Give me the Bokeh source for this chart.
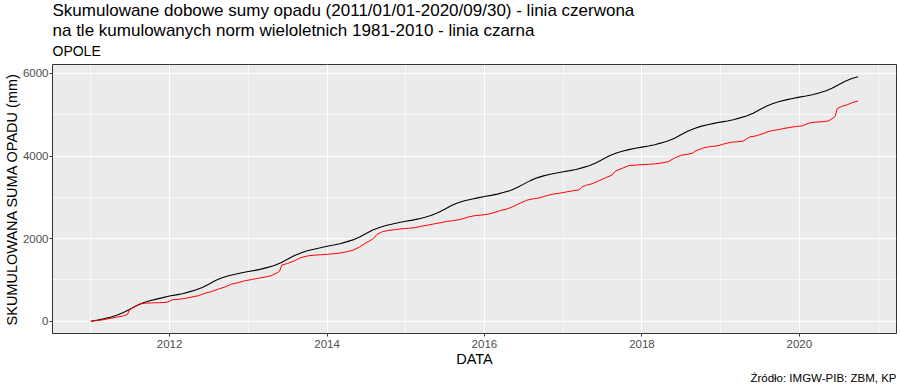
import pandas as pd
from bokeh.plotting import figure
from bokeh.models import Range1d, FixedTicker, DatetimeTickFormatter, Title, ColumnDataSource
from bokeh.embed import file_html
from bokeh.resources import INLINE

# ---- data ----
norm_month_vals = [
    0, 28, 58, 98, 145, 212, 292, 378, 447, 497, 536, 572,
    612, 640, 668, 712, 757, 820, 898, 985, 1052, 1102, 1140, 1174,
    1205, 1233, 1263, 1305, 1350, 1418, 1500, 1585, 1655, 1706, 1744, 1778,
    1818, 1846, 1876, 1922, 1970, 2040, 2125, 2207, 2272, 2320, 2356, 2390,
    2420, 2448, 2478, 2520, 2566, 2632, 2714, 2800, 2868, 2918, 2955, 2988,
    3020, 3048, 3078, 3122, 3168, 3236, 3320, 3405, 3472, 3520, 3558, 3590,
    3618, 3646, 3676, 3720, 3766, 3834, 3915, 4000, 4068, 4118, 4156, 4188,
    4216, 4244, 4274, 4318, 4364, 4432, 4515, 4600, 4668, 4718, 4756, 4790,
    4822, 4850, 4880, 4924, 4970, 5038, 5120, 5205, 5272, 5322, 5360, 5394,
    5426, 5454, 5484, 5528, 5574, 5642, 5725, 5810, 5876,
    5920,
]
norm_dates = list(pd.date_range("2011-01-01", "2020-09-01", freq="MS")) + [pd.Timestamp("2020-09-30")]

obs_dates = [
    "2011-01-01", "2011-02-01", "2011-03-01", "2011-04-01", "2011-05-01", "2011-06-01",
    "2011-06-20", "2011-06-28", "2011-07-15", "2011-08-15", "2011-09-15", "2011-10-15",
    "2011-11-15", "2011-12-20", "2012-01-15", "2012-02-15", "2012-03-15", "2012-04-15",
    "2012-05-15", "2012-06-15", "2012-07-15", "2012-08-15", "2012-09-15", "2012-10-15",
    "2012-11-15", "2012-12-15", "2013-01-15", "2013-02-15", "2013-03-15", "2013-04-15",
    "2013-05-10", "2013-05-25", "2013-06-05", "2013-07-01", "2013-08-01", "2013-09-01",
    "2013-10-01", "2013-11-01", "2013-12-01", "2014-01-01", "2014-02-01", "2014-03-01",
    "2014-04-01", "2014-05-01", "2014-06-01", "2014-07-01", "2014-08-01", "2014-08-20",
    "2014-09-15", "2014-10-15", "2014-11-15", "2014-12-15", "2015-01-15", "2015-02-15",
    "2015-03-15", "2015-04-15", "2015-05-15", "2015-06-15", "2015-07-15", "2015-08-15",
    "2015-09-15", "2015-10-15", "2015-11-15", "2015-12-15", "2016-01-15", "2016-02-15",
    "2016-03-15", "2016-04-15", "2016-05-15", "2016-06-15", "2016-07-15", "2016-08-15",
    "2016-09-15", "2016-10-15", "2016-11-15", "2016-12-15", "2017-01-15", "2017-02-15",
    "2017-03-15", "2017-04-01", "2017-04-15", "2017-05-15", "2017-06-15", "2017-07-15",
    "2017-08-15", "2017-09-01", "2017-10-01", "2017-11-01", "2017-12-01", "2018-01-01",
    "2018-02-01", "2018-03-01", "2018-04-01", "2018-05-01", "2018-06-01", "2018-07-01",
    "2018-08-01", "2018-08-25", "2018-09-05", "2018-09-15", "2018-10-15", "2018-11-15",
    "2018-12-15", "2019-01-15", "2019-02-15", "2019-03-15", "2019-04-15", "2019-05-15",
    "2019-06-15", "2019-07-15", "2019-08-15", "2019-09-15", "2019-10-15", "2019-11-15",
    "2019-12-15", "2020-01-15", "2020-02-15", "2020-03-15", "2020-04-15", "2020-05-15",
    "2020-06-01", "2020-06-15", "2020-06-25", "2020-07-15", "2020-08-10", "2020-09-01",
    "2020-09-30",
]
obs_vals = [
    0, 20, 40, 70, 100, 130,
    165, 270, 330, 420, 440, 445,
    450, 460, 520, 535, 555, 590,
    620, 680, 720, 780, 830, 900,
    935, 980, 1010, 1040, 1065, 1100,
    1160, 1210, 1360, 1400, 1460, 1540,
    1580, 1600, 1610, 1620, 1635, 1650,
    1680, 1720, 1800, 1900, 1990, 2100,
    2170, 2200, 2220, 2240, 2250, 2270,
    2300, 2330, 2360, 2390, 2420, 2440,
    2470, 2520, 2555, 2570, 2590, 2630,
    2680, 2720, 2780, 2860, 2930, 2965,
    2990, 3040, 3080, 3100, 3130, 3160,
    3180, 3260, 3290, 3330, 3400, 3470,
    3540, 3640, 3700, 3770, 3780, 3790,
    3800, 3810, 3830, 3860, 3950, 4020,
    4040, 4070, 4120, 4140, 4200, 4230,
    4245, 4290, 4330, 4345, 4360, 4460,
    4490, 4540, 4600, 4630, 4660, 4690,
    4715, 4730, 4800, 4820, 4830, 4850,
    4900, 4960, 5150, 5200, 5240, 5290,
    5335,
]

x_major_years = ["2012-01-01", "2014-01-01", "2016-01-01", "2018-01-01", "2020-01-01"]
x_minor_years = ["2011-01-01", "2013-01-01", "2015-01-01", "2017-01-01", "2019-01-01", "2021-01-01"]
y_major = [0, 2000, 4000, 6000]
y_minor = [1000, 3000, 5000]

title_text = ("Skumulowane dobowe sumy opadu (2011/01/01-2020/09/30) - linia czerwona\n"
              "na tle kumulowanych norm wieloletnich 1981-2010 - linia czarna")
subtitle_text = "OPOLE"
caption_text = "Źródło: IMGW-PIB: ZBM, KP"
x_label = "DATA"
y_label = "SKUMULOWANA SUMA OPADU (mm)"

FONT = "Liberation Sans"


def ms(d):
    return pd.Timestamp(d).value / 1e6


norm_src = ColumnDataSource(dict(x=norm_dates, y=norm_month_vals))
obs_src = ColumnDataSource(dict(x=pd.to_datetime(obs_dates), y=obs_vals))

all_x = [ms(d) for d in norm_dates] + [ms(d) for d in obs_dates]
xmin, xmax = min(all_x), max(all_x)
xpad = 0.05 * (xmax - xmin)
ymin = min(min(norm_month_vals), min(obs_vals))
ymax = max(max(norm_month_vals), max(obs_vals))
ypad = 0.05 * (ymax - ymin)

p = figure(width=900, height=386, x_axis_type="datetime",
           output_backend="svg", toolbar_location=None,
           x_range=Range1d(xmin - xpad, xmax + xpad),
           y_range=Range1d(ymin - ypad, ymax + ypad),
           min_border_left=0, min_border_right=4,
           min_border_top=0, min_border_bottom=53)

p.background_fill_color = "#EBEBEB"
p.border_fill_color = "white"
p.outline_line_color = "#333333"
p.outline_line_width = 1

# main title (outermost)
p.title.text = title_text
p.title.text_font = FONT
p.title.text_font_size = "17px"
p.title.text_font_style = "normal"
p.title.text_color = "black"
p.title.align = "left"
p.title.text_line_height = 1.05
p.title.standoff = -3

sub = Title(text=subtitle_text, text_font=FONT, text_font_size="14px",
            text_font_style="normal", text_color="black", align="left",
            vertical_align="top", standoff=8)
p.add_layout(sub, "above")

# axes
p.xaxis.ticker = FixedTicker(ticks=[ms(d) for d in x_major_years],
                             minor_ticks=[ms(d) for d in x_minor_years])
p.xaxis.formatter = DatetimeTickFormatter(years="%Y", months="%Y", days="%Y")
p.yaxis.ticker = FixedTicker(ticks=y_major, minor_ticks=y_minor)

for ax in (p.xaxis[0], p.yaxis[0]):
    ax.axis_line_color = None
    ax.major_tick_line_color = "#333333"
    ax.major_tick_out = 3
    ax.major_tick_in = 0
    ax.minor_tick_line_color = None
    ax.major_label_text_color = "#4D4D4D"
    ax.major_label_text_font = FONT
    ax.major_label_text_font_size = "11.5px"
    ax.major_label_standoff = 1
    ax.axis_label_text_font = FONT
    ax.axis_label_text_font_size = "14.5px"
    ax.axis_label_text_font_style = "normal"
    ax.axis_label_text_color = "black"
    ax.axis_label_standoff = 0
p.xaxis.major_label_standoff = 2
p.yaxis.major_label_standoff = 0

p.xaxis.axis_label = x_label
p.yaxis.axis_label = y_label

for g in (p.xgrid[0], p.ygrid[0]):
    g.grid_line_color = "white"
    g.grid_line_width = 1.1
    g.minor_grid_line_color = "white"
    g.minor_grid_line_width = 0.6

caption = Title(text=caption_text, text_font=FONT, text_font_size="11.5px",
                text_font_style="normal", text_color="black", align="right",
                standoff=0)
p.add_layout(caption, "below")

p.line("x", "y", source=norm_src, line_color="black", line_width=1.1)
p.line("x", "y", source=obs_src, line_color="red", line_width=1)

open("out.html", "w").write(file_html(p, INLINE))
